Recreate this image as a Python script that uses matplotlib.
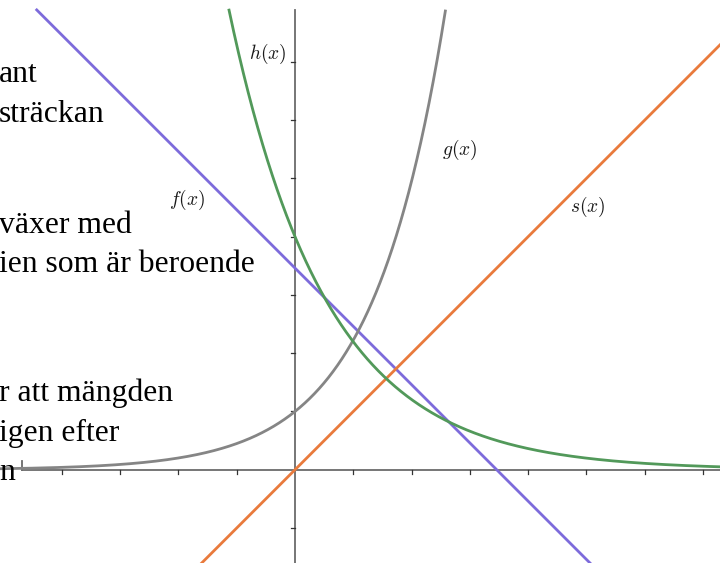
import numpy as np
import matplotlib.pyplot as plt

# visible window in graph units (one tick = one unit)
x_min, x_max = -5.06, 7.29
y_min, y_max = -1.60, 8.06
y_top = 7.89          # curves and y-axis stop a little below the top edge
x_axis_start = -4.68  # x-axis starts here, left of that is the text

x_ticks = [-4, -3, -2, -1, 1, 2, 3, 4, 5, 6, 7]
y_ticks = [-1, 1, 2, 3, 4, 5, 6, 7]

# function parameters
f_slope, f_icept = -1.0, 3.46     # f(x) = -x + 3.46
s_slope = 1.0                     # s(x) = x
g_rate = 0.8                      # g(x) = e^(0.8x)
h_start, h_rate = 4.0, -0.6       # h(x) = 4 e^(-0.6x)

text_lines = ["ant", "sträckan", "växer med", "ien som är beroende",
              "r att mängden", "igen efter", "n"]
text_baselines = [82, 122, 233, 272, 401, 441, 480]  # pixel rows

plt.rcParams['mathtext.fontset'] = 'cm'

fig = plt.figure(figsize=(7.2, 5.63), dpi=100)
ax = fig.add_axes([0, 0, 1, 1])
ax.set_xlim(x_min, x_max)
ax.set_ylim(y_min, y_max)
ax.axis('off')

axis_col = '#6b6b6b'
# axes
ax.plot([x_axis_start, x_max], [0, 0], color=axis_col, lw=1.3, zorder=1)
ax.plot([x_axis_start, x_axis_start], [0, 0.15], color=axis_col, lw=1.3, zorder=1)
ax.plot([0, 0], [y_min, y_top], color=axis_col, lw=1.3, zorder=1)
for t in x_ticks:
    ax.plot([t, t], [0, -0.07], color='#333333', lw=0.9, zorder=1)
for t in y_ticks:
    ax.plot([-0.06, 0], [t, t], color='#333333', lw=0.9, zorder=1)

x = np.linspace(x_min, x_max, 3000)

def clip(y):
    y = np.array(y, dtype=float)
    y[(y > y_top)] = np.nan
    return y

lw = 2.0
ax.plot(x, clip(f_slope * x + f_icept), color='#7d6bdb', lw=lw, zorder=3)
ax.plot(x, clip(s_slope * x), color='#e97a3c', lw=lw, zorder=3)
ax.plot(x, clip(np.exp(g_rate * x)), color='#858585', lw=lw, zorder=3)
ax.plot(x, clip(h_start * np.exp(h_rate * x)), color='#52995a', lw=lw, zorder=3)

# curve labels
lab_kw = dict(fontsize=14, ha='center', va='center', color='#1a1a1a')
ax.text(-1.86, 4.63, r'$f(x)$', **lab_kw)
ax.text(2.83, 5.49, r'$g(x)$', **lab_kw)
ax.text(-0.46, 7.14, r'$h(x)$', **lab_kw)
ax.text(5.03, 4.51, r'$s(x)$', **lab_kw)

# cut-off text from the page next to the graph
for s, b in zip(text_lines, text_baselines):
    fig.text(-1 / 720, 1 - b / 563, s, fontsize=22.8, family='Liberation Serif',
             ha='left', va='baseline', color='black')

fig.savefig('out.png', dpi=100)
